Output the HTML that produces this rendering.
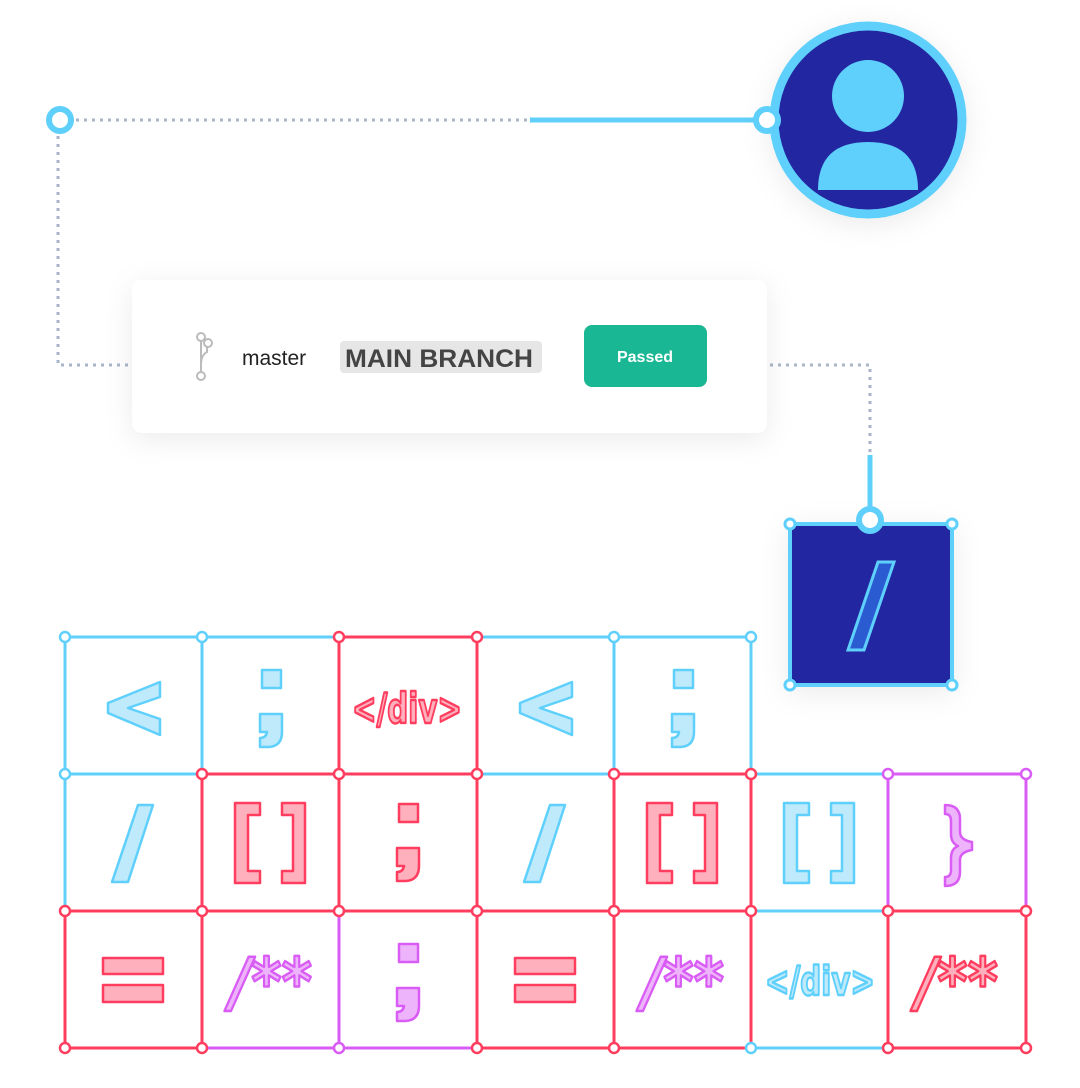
<!DOCTYPE html>
<html><head><style>
body{margin:0;background:#fff;width:1080px;height:1083px;overflow:hidden;font-family:"Liberation Sans",sans-serif}
</style></head><body>
<svg width="1080" height="1083" viewBox="0 0 1080 1083" xmlns="http://www.w3.org/2000/svg">
<defs>
<filter id="sh" x="-20%" y="-40%" width="140%" height="180%"><feDropShadow dx="0" dy="6" stdDeviation="14" flood-color="#000" flood-opacity="0.08"/></filter>
<polygon id="lt" points="95,45 95,60 63,71 95,82 95,98 43,76 43,66"/>
<g id="semi"><rect x="60" y="33" width="19" height="18"/><path d="M58,77 H80 V95 Q80,109 67,110 H58 V101 Q64,101 65,95 H58 Z"/></g>
<polygon id="sl" points="73,31 88,31 63,108 47,108"/>
<g id="br"><polygon points="33,29 58,29 58,41 46,41 46,97 58,97 58,109 33,109"/><polygon points="80,29 103,29 103,109 80,109 80,97 91,97 91,41 80,41"/></g>
<g id="eq"><rect x="38" y="47" width="60" height="16"/><rect x="38" y="74" width="60" height="17"/></g>
</defs>
<path d="M60 120 H530 M58 120 V365 H132 M770 365 H870 V455" stroke="#a9b6c8" stroke-width="3" stroke-dasharray="3 5" fill="none"/>
<path d="M530 120 H767 M870 455 V520" stroke="#5fd0fb" stroke-width="5" fill="none"/>
<circle cx="60" cy="120" r="11" fill="#fff" stroke="#5fd0fb" stroke-width="6"/>
<circle cx="868" cy="120" r="94" fill="#2328a0" stroke="#5fd0fb" stroke-width="9" filter="url(#sh)"/>
<circle cx="868" cy="96" r="36" fill="#5fd0fb"/>
<path d="M818 190 Q818 142 868 142 Q918 142 918 190 Z" fill="#5fd0fb"/>
<circle cx="767" cy="120" r="11" fill="#fff" stroke="#5fd0fb" stroke-width="6"/>
<rect x="132" y="280" width="635" height="153" rx="10" fill="#fff" filter="url(#sh)"/>
<g stroke="#bbb" stroke-width="2" fill="#fff">
<path d="M201 340 V375 M201 365 Q201 355 207 352 V343" fill="none"/>
<circle cx="201" cy="337" r="4"/><circle cx="208" cy="343" r="4"/><circle cx="201" cy="376" r="4"/>
</g>
<text x="242" y="365" font-size="21" fill="#222">master</text>
<rect x="340" y="341" width="202" height="32" rx="4" fill="#e6e6e6"/>
<text x="345" y="367" font-size="25" font-weight="bold" fill="#444" textLength="188" lengthAdjust="spacingAndGlyphs">MAIN BRANCH</text>
<rect x="584" y="325" width="123" height="62" rx="8" fill="#1ab795"/>
<text x="645" y="362" font-size="16" font-weight="bold" fill="#fff" text-anchor="middle">Passed</text>
<rect x="790" y="524" width="162" height="161" fill="#2328a0" stroke="#5fd0fb" stroke-width="4" filter="url(#sh)"/>
<polygon points="878,562 894,562 864,650 848,650" fill="#2a5bd0" stroke="#5fd0fb" stroke-width="3"/>
<circle cx="870" cy="520" r="11" fill="#fff" stroke="#5fd0fb" stroke-width="6"/>
<g fill="#fff" stroke="#5fd0fb" stroke-width="3"><circle cx="790" cy="524" r="5"/><circle cx="952" cy="524" r="5"/><circle cx="790" cy="685" r="5"/><circle cx="952" cy="685" r="5"/></g>
<g stroke-width="3">
<g stroke="#5fd0fb" fill="none"><rect x="65" y="637" width="137" height="137"/><rect x="202" y="637" width="137" height="137"/><rect x="477" y="637" width="137" height="137"/><rect x="614" y="637" width="137" height="137"/><rect x="65" y="774" width="137" height="137"/><rect x="477" y="774" width="137" height="137"/><rect x="751" y="774" width="137" height="137"/><rect x="751" y="911" width="137" height="137"/></g>
<g stroke="#d95cf5" fill="none"><rect x="888" y="774" width="138" height="137"/><rect x="202" y="911" width="137" height="137"/><rect x="339" y="911" width="138" height="137"/></g>
<g stroke="#ff3d5e" fill="none"><rect x="339" y="637" width="138" height="137"/><rect x="202" y="774" width="137" height="137"/><rect x="339" y="774" width="138" height="137"/><rect x="614" y="774" width="137" height="137"/><rect x="65" y="911" width="137" height="137"/><rect x="477" y="911" width="137" height="137"/><rect x="614" y="911" width="137" height="137"/><rect x="888" y="911" width="138" height="137"/></g>
</g>
<g stroke-width="2.5" stroke-linejoin="round">
<g stroke="#5fd0fb" fill="#bfeafc">
<use href="#lt" x="65" y="637"/><use href="#semi" x="202" y="637"/><use href="#lt" x="477" y="637"/><use href="#semi" x="614" y="637"/>
<use href="#sl" x="65" y="774"/><use href="#sl" x="477" y="774"/><use href="#br" x="751" y="774"/>
<text x="765" y="995" font-family="DejaVu Sans, sans-serif" font-weight="bold" font-size="40" textLength="110" lengthAdjust="spacingAndGlyphs">&lt;/div&gt;</text>
</g>
<g stroke="#ff3d5e" fill="#ffb0bd">
<text x="352" y="723" font-family="DejaVu Sans, sans-serif" font-weight="bold" font-size="42" textLength="110" lengthAdjust="spacingAndGlyphs">&lt;/div&gt;</text>
<use href="#br" x="202" y="774"/><use href="#semi" x="339" y="771"/><use href="#br" x="614" y="774"/>
<use href="#eq" x="65" y="911"/><use href="#eq" x="477" y="911"/>
<text x="916" y="1005" font-family="DejaVu Sans, sans-serif" font-weight="bold" font-size="66" textLength="82" lengthAdjust="spacingAndGlyphs" font-style="italic">/**</text>
</g>
<g stroke="#d95cf5" fill="#eeb4fb">
<path transform="translate(888,774)" d="M57,31 Q72,31 72,45 V58 Q72,66 84,68 V76 Q72,78 72,86 V98 Q72,112 57,112 V103 Q63,103 63,96 V84 Q63,75 70,72 Q63,69 63,60 V47 Q63,40 57,40 Z"/>
<text x="230" y="1005" font-family="DejaVu Sans, sans-serif" font-weight="bold" font-size="66" textLength="82" lengthAdjust="spacingAndGlyphs" font-style="italic">/**</text>
<use href="#semi" x="339" y="911"/>
<text x="642" y="1005" font-family="DejaVu Sans, sans-serif" font-weight="bold" font-size="66" textLength="82" lengthAdjust="spacingAndGlyphs" font-style="italic">/**</text>
</g>
</g>
<g fill="#fff" stroke-width="2.5">
<g stroke="#5fd0fb"><circle cx="65" cy="637" r="5"/><circle cx="202" cy="637" r="5"/><circle cx="614" cy="637" r="5"/><circle cx="751" cy="637" r="5"/><circle cx="65" cy="774" r="5"/><circle cx="751" cy="1048" r="5"/></g>
<g stroke="#d95cf5"><circle cx="888" cy="774" r="5"/><circle cx="1026" cy="774" r="5"/><circle cx="339" cy="1048" r="5"/></g>
<g stroke="#ff3d5e"><circle cx="339" cy="637" r="5"/><circle cx="477" cy="637" r="5"/><circle cx="202" cy="774" r="5"/><circle cx="339" cy="774" r="5"/><circle cx="477" cy="774" r="5"/><circle cx="614" cy="774" r="5"/><circle cx="751" cy="774" r="5"/>
<circle cx="65" cy="911" r="5"/><circle cx="202" cy="911" r="5"/><circle cx="339" cy="911" r="5"/><circle cx="477" cy="911" r="5"/><circle cx="614" cy="911" r="5"/><circle cx="751" cy="911" r="5"/><circle cx="888" cy="911" r="5"/><circle cx="1026" cy="911" r="5"/>
<circle cx="65" cy="1048" r="5"/><circle cx="202" cy="1048" r="5"/><circle cx="477" cy="1048" r="5"/><circle cx="614" cy="1048" r="5"/><circle cx="888" cy="1048" r="5"/><circle cx="1026" cy="1048" r="5"/></g>
</g>
</svg>
</body></html>
